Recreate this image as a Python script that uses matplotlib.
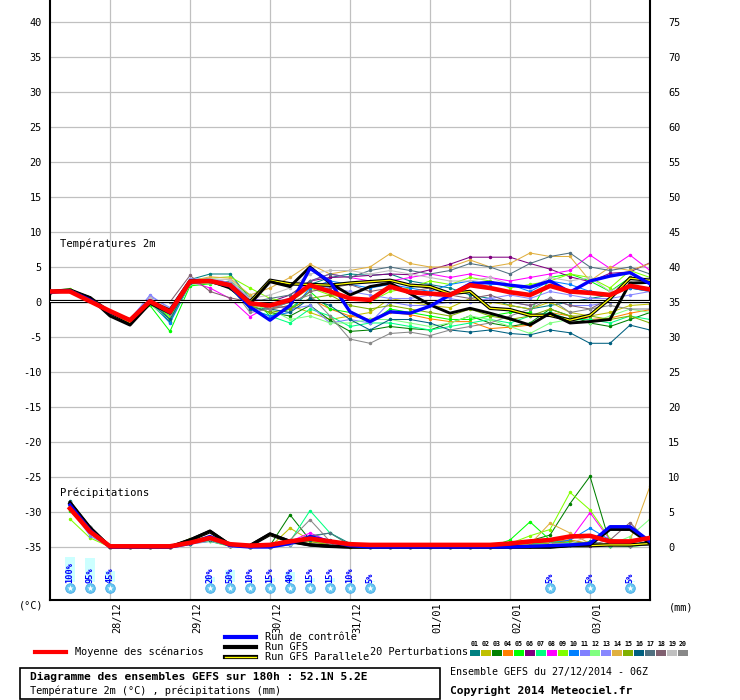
import numpy as np
import matplotlib
matplotlib.use('Agg')
import matplotlib.pyplot as plt
from matplotlib.lines import Line2D
from matplotlib.patches import Rectangle

plt.rcParams['font.family'] = ['DejaVu Sans Mono']
plt.rcParams['axes.unicode_minus'] = False

# forecast steps (hours after 27/12/2014 06Z)
hours = np.arange(0, 181, 6)
precip_hours = hours[1:]

day_hours = [18, 42, 66, 90, 114, 138, 162]
day_labels = ['28/12', '29/12', '30/12', '31/12', '01/01', '02/01', '03/01']

# --- temperature 2m (degC) ---
mean_temp = [1.5, 1.5, 0.1, -1.3, -2.6, 0.1, -1.4, 2.9, 3.0, 2.4, -0.2, -0.5, 0.3, 2.4, 1.5, 0.5,
             0.3, 2.2, 1.4, 1.2, 1.0, 2.4, 2.0, 1.4, 1.0, 2.3, 1.5, 1.3, 1.0, 2.3, 1.8]
control_temp = [1.4, 1.6, 0.3, -1.4, -2.6, 0.2, -1.5, 2.9, 3.0, 2.3, -0.7, -2.6, -0.5, 4.8, 2.9, -1.4,
                -2.8, -1.4, -1.6, -0.6, 1.0, 2.6, 2.8, 2.4, 2.1, 3.0, 1.4, 3.0, 3.7, 4.2, 2.6]
gfs_temp = [1.4, 1.6, 0.6, -2.0, -3.3, -0.2, -1.6, 2.9, 3.0, 2.0, -0.3, 2.9, 2.2, 5.0, 2.7, 1.0,
            2.2, 2.7, 1.2, -0.4, -1.6, -0.9, -1.6, -2.4, -3.3, -1.6, -3.0, -2.8, -2.5, 2.7, 2.8]
para_temp = [1.5, 1.7, 0.6, -1.5, -2.9, 0.0, -1.2, 3.0, 3.0, 2.4, 0.0, 3.1, 2.6, 2.5, 2.4, 2.7,
             2.9, 3.1, 2.4, 2.2, 1.2, 1.5, -0.9, -1.1, -1.9, -1.9, -2.6, -1.9, 0.5, 3.4, 3.1]

m01_temp = [1.4, 1.6, 0.5, -1.4, -2.5, 0.5, -2.5, 3.2, 4.0, 4.0, 0.5, -1.0, 0.0, 2.5, 3.5, 4.0,
            3.8, 4.0, 3.0, 2.5, 2.0, 1.0, 0.5, -0.5, -1.0, -0.5, 0.0, 0.5, 1.0, 2.0, 1.5]
m02_temp = [1.5, 1.7, 0.4, -1.6, -2.8, 0.0, -1.8, 2.7, 2.9, 2.2, 0.0, -1.0, -0.5, -1.5, -2.5, -2.0,
            -1.5, 0.5, 0.0, -0.5, -0.8, 0.5, 0.0, -0.5, -1.0, 0.0, -1.5, -2.0, -1.5, -0.5, -0.3]
m03_temp = [1.3, 1.5, 0.2, -1.6, -2.9, -0.2, -2.8, 2.6, 2.8, 2.0, -0.5, -1.5, -2.0, -0.5, -2.6, -4.2,
            -4.0, -3.5, -3.8, -4.0, -3.0, -2.0, -3.0, -3.5, -3.0, -1.0, -2.0, -3.0, -3.5, -2.5, -1.5]
m04_temp = [1.5, 1.6, 0.3, -1.5, -2.7, 0.3, -1.6, 2.9, 3.0, 2.3, 0.0, -0.5, -1.0, 0.5, -1.0, -2.0,
            -2.5, -1.5, -1.8, -2.4, -2.8, -2.8, -3.8, -3.6, -3.3, -1.5, -2.0, -2.5, -2.3, -1.6, -1.1]
m05_temp = [1.4, 1.6, 0.2, -1.7, -2.8, -0.5, -4.2, 2.3, 2.6, 3.0, 1.0, -2.0, -1.0, 1.5, -1.0, -1.5,
            -3.0, -1.0, -1.5, -2.0, -2.5, -2.5, -2.0, -1.5, -1.5, 3.5, 4.0, 3.0, 1.5, 3.5, 3.0]
m06_temp = [1.5, 1.7, 0.4, -1.4, -2.5, 0.5, -1.2, 3.0, 3.2, 2.8, 0.5, 0.0, 1.0, 3.0, 3.5, 3.6,
            3.8, 4.0, 3.9, 4.6, 5.4, 6.4, 6.4, 6.4, 5.5, 4.7, 3.6, 2.9, 4.1, 4.3, 5.6]
m07_temp = [1.4, 1.6, 0.3, -1.5, -2.6, 0.0, -2.0, 2.7, 2.8, 2.0, -1.0, -2.0, -3.0, -1.0, -2.0, -3.5,
            -3.0, -3.0, -3.5, -4.0, -3.5, -3.0, -2.5, -3.0, -2.0, -1.5, -2.5, -2.5, -3.0, -2.0, -2.5]
m08_temp = [1.5, 1.6, 0.3, -1.5, -2.6, 0.3, -1.4, 2.9, 2.0, 0.5, -2.1, -0.5, 0.5, 3.0, 4.0, 3.5,
            3.0, 3.0, 3.5, 4.0, 3.5, 4.0, 3.5, 3.0, 3.5, 4.0, 4.5, 6.7, 4.8, 6.7, 4.5]
m09_temp = [1.6, 1.9, 0.6, -1.3, -2.4, 0.4, -2.2, 3.1, 3.4, 3.6, 2.0, 0.5, 0.0, 2.0, 1.0, 0.5,
            0.0, 1.5, 2.0, 3.0, 2.5, 3.5, 3.0, 2.0, 2.5, 3.0, 4.0, 3.5, 2.0, 4.5, 3.5]
m10_temp = [1.4, 1.5, 0.2, -1.6, -2.8, 0.0, -3.0, 2.6, 2.8, 2.3, -1.0, -2.0, -1.5, 2.0, 3.0, 2.5,
            2.0, 2.5, 2.0, 1.5, 2.5, 3.0, 2.5, 2.5, 1.5, 3.0, 2.5, 1.5, 1.0, 2.0, 1.5]
m11_temp = [1.5, 1.6, 0.4, -1.3, -2.5, 1.0, -1.0, 3.2, 3.1, 2.6, 0.0, -0.5, -1.0, -0.5, -3.0, -2.5,
            -3.0, 0.0, -0.5, -0.5, 0.0, 0.0, 0.5, 0.0, -0.5, 0.5, -0.5, -0.5, 0.0, 0.2, 0.0]
m12_temp = [1.3, 1.5, 0.2, -1.7, -3.0, -0.3, -2.5, 2.5, 2.7, 2.4, -0.5, -1.0, -2.5, -2.0, -3.0, -3.0,
            -2.5, -2.5, -3.0, -3.5, -3.0, -2.0, -2.5, -3.5, -4.5, -3.0, -2.5, -3.0, -2.0, -1.0, -1.5]
m13_temp = [1.5, 1.7, 0.5, -1.4, -2.4, 0.8, -0.8, 3.3, 3.3, 2.8, 0.5, 0.0, 0.5, 2.5, 2.0, 1.5,
            1.0, 0.5, 0.5, 1.0, 0.5, 0.0, 0.5, 1.0, 0.5, 1.5, 1.0, 0.5, 0.5, 1.0, 1.5]
m14_temp = [1.5, 1.7, 0.5, -1.4, -2.5, 0.5, -1.3, 3.0, 3.6, 3.4, 1.0, 2.0, 3.5, 5.4, 4.0, 4.5,
            5.0, 6.9, 5.5, 5.0, 5.0, 6.0, 5.0, 5.5, 7.0, 6.5, 6.5, 3.0, 5.0, 4.5, 5.5]
m15_temp = [1.4, 1.6, 0.3, -1.5, -2.7, 0.2, -1.5, 2.8, 2.9, 2.4, -0.5, -1.5, -1.0, 0.5, 1.0, -0.5,
            -1.0, -0.5, -1.0, -1.5, -2.0, -1.0, -2.0, -2.5, -2.0, -1.0, -2.0, -2.0, -2.5, -2.0, -3.0]
m16_temp = [1.4, 1.6, 0.3, -1.5, -2.7, 0.0, -2.5, 2.7, 2.9, 2.3, -1.0, -1.0, -1.5, 0.5, -0.5, -2.5,
            -4.0, -2.5, -2.5, -3.0, -4.0, -4.3, -4.0, -4.5, -4.7, -4.0, -4.4, -5.9, -5.9, -3.3, -4.0]
m17_temp = [1.5, 1.6, 0.4, -1.4, -2.6, 0.2, -1.6, 2.9, 3.0, 2.6, 0.0, 0.5, 1.0, 3.0, 4.0, 3.5,
            4.5, 5.0, 4.5, 4.0, 4.5, 5.5, 5.0, 4.0, 5.5, 6.5, 7.0, 5.0, 4.5, 5.0, 4.0]
m18_temp = [1.3, 1.5, 0.2, -1.6, -2.8, 0.0, 0.0, 3.8, 1.5, 0.6, 0.0, -1.0, -0.5, 1.5, 2.0, 2.5,
            1.5, 2.0, 1.5, 2.0, 1.0, 0.5, 1.0, 0.0, -0.5, 0.5, -0.5, -1.0, 0.5, 3.5, 3.0]
m19_temp = [1.5, 1.6, 0.5, -1.4, -2.5, 0.5, -1.0, 3.0, 3.3, 3.2, 0.5, 1.0, 2.0, 4.0, 4.5, 4.5,
            4.0, 4.5, 4.0, 3.5, 3.0, 3.0, 3.5, 2.5, 2.0, 3.5, 3.0, 3.5, 1.5, 3.0, 3.5]
m20_temp = [1.4, 1.6, 0.3, -1.5, -2.7, -0.2, -1.7, 2.8, 2.9, 2.3, -1.5, -1.0, 0.0, 1.0, -2.0, -5.3,
            -5.9, -4.5, -4.3, -4.8, -4.0, -3.5, -3.0, -2.0, -1.0, 0.5, -1.5, -1.0, -0.5, -1.0, -1.0]

# --- precipitation per 6h (mm), from +6h ---
mean_prec = [5.5, 2.2, 0.1, 0.1, 0.1, 0.1, 0.6, 1.3, 0.4, 0.2, 0.3, 0.8, 1.2, 0.8, 0.4,
             0.3, 0.3, 0.3, 0.3, 0.3, 0.3, 0.3, 0.5, 0.8, 1.0, 1.5, 1.6, 0.8, 0.8, 1.3]
control_prec = [6.0, 2.4, 0, 0, 0, 0, 0.5, 1.5, 0.2, 0, 0, 0.5, 1.5, 0.8, 0.2,
                0, 0, 0, 0, 0, 0, 0, 0, 0.1, 0.2, 0.3, 0.5, 2.9, 2.9, 0.8]
gfs_prec = [6.4, 2.8, 0, 0, 0, 0, 1.0, 2.3, 0.3, 0.2, 1.9, 0.8, 0.3, 0.1, 0,
            0, 0, 0, 0, 0, 0, 0, 0, 0, 0, 0.2, 0.3, 2.5, 2.5, 0.5]
para_prec = [6.2, 2.7, 0, 0, 0, 0, 1.0, 2.2, 0.3, 0.2, 1.8, 0.8, 0.3, 0.1, 0,
             0, 0, 0, 0, 0, 0, 0, 0, 0, 0, 0.2, 0.2, 0.3, 0.3, 0.5]

m01_prec = [6.6, 2.8, 0, 0, 0, 0, 0.6, 1.2, 0.3, 0, 0, 0.5, 1.5, 2.0, 0.5, 0, 0, 0.1, 0.1, 0, 0, 0, 0.3, 0.5, 0.5, 0.3, 0.8, 0.2, 0.3, 0.7]
m02_prec = [6.0, 2.4, 0, 0, 0, 0, 1.0, 1.5, 0.2, 0, 0, 2.7, 1.0, 0.3, 0, 0, 0, 0, 0, 0, 0, 0, 0.2, 0.5, 0.8, 1.0, 0.5, 0.3, 0.5, 0.4]
m03_prec = [5.5, 2.2, 0, 0, 0, 0, 0.8, 1.3, 0.2, 0, 0.2, 4.6, 1.0, 0.4, 0.1, 0, 0, 0, 0, 0, 0, 0, 0.3, 0.9, 1.7, 6.2, 10.1, 0.5, 0.2, 0.5]
m04_prec = [5.8, 2.5, 0, 0, 0, 0, 0.5, 1.0, 0.2, 0, 0, 0.5, 0.8, 0.3, 0, 0, 0, 0, 0, 0, 0, 0, 0, 0.3, 0.6, 1.0, 0.4, 0.2, 0.3, 0.6]
m05_prec = [5.2, 2.0, 0, 0, 0, 0, 0.5, 0.8, 0.1, 0, 0, 0.3, 1.2, 0.6, 0.2, 0.1, 0, 0, 0, 0, 0, 0, 1.0, 3.6, 1.0, 0.5, 0.3, 0.2, 0.1, 0.3]
m06_prec = [6.2, 2.6, 0, 0, 0, 0, 0.6, 1.1, 0.2, 0, 0, 0.6, 1.3, 0.5, 0.2, 0, 0, 0, 0.2, 0.2, 0, 0, 0, 0.2, 0.3, 0.4, 0.2, 0.2, 0.2, 0.3]
m07_prec = [5.9, 2.3, 0, 0, 0, 0, 0.5, 1.0, 0.3, 0, 0, 0.8, 5.2, 2.0, 0.3, 0, 0, 0, 0, 0, 0, 0, 0, 0.4, 0.8, 0.6, 0.5, 0.2, 0.3, 0.8]
m08_prec = [6.1, 2.5, 0, 0, 0, 0, 0.6, 1.1, 0.2, 0, 0, 0.8, 2.0, 0.8, 0.2, 0, 0, 0, 0, 0, 0, 0, 0, 0.2, 0.3, 1.0, 4.9, 1.0, 0.3, 0.5]
m09_prec = [4.0, 1.3, 0, 0, 0, 0, 0.7, 1.0, 0.2, 0, 0, 0.5, 1.0, 0.5, 0.6, 0.2, 0, 0, 0, 0, 0, 0, 0.5, 1.6, 2.5, 7.8, 5.3, 1.2, 0.3, 0.6]
m10_prec = [6.0, 2.4, 0, 0, 0, 0, 0.6, 1.2, 0.3, 0, 0, 0.4, 1.0, 0.4, 0.1, 0, 0, 0, 0, 0, 0, 0, 0, 0.2, 0.5, 1.0, 2.7, 1.0, 0.5, 0.4]
m11_prec = [5.6, 1.6, 0, 0, 0, 0, 0.4, 0.8, 0.2, 0, 0, 0.3, 0.9, 0.4, 0.1, 0, 0, 0, 0.1, 0, 0, 0, 0, 0.1, 0.3, 0.5, 0.5, 0.4, 0.3, 0.5]
m12_prec = [5.7, 2.0, 0, 0, 0, 0, 0.5, 0.9, 0.2, 0, 0, 0.4, 0.8, 0.5, 0.2, 0, 0, 0, 0, 0, 0, 0, 0, 0.3, 0.5, 0.5, 0.4, 0.3, 1.5, 4.0]
m13_prec = [5.9, 2.3, 0, 0, 0, 0, 0.5, 1.0, 0.2, 0, 0, 0.5, 1.2, 0.4, 0.1, 0, 0, 0, 0, 0, 0, 0, 0, 0.2, 0.4, 0.4, 0.5, 0.3, 0.6, 0.3]
m14_prec = [6.3, 2.6, 0, 0, 0, 0, 0.6, 1.3, 0.2, 0, 0, 0.5, 1.0, 0.3, 0, 0, 0, 0, 0, 0, 0, 0, 0, 0.4, 3.4, 2.0, 0.5, 0.5, 0.9, 8.7]
m15_prec = [5.4, 2.1, 0, 0, 0, 0, 1.2, 1.0, 0.2, 0, 0, 1.0, 0.8, 0.3, 0, 0, 0, 0, 0, 0, 0, 0, 0, 0.3, 0.5, 0.8, 0.5, 0.3, 0.5, 1.2]
m16_prec = [6.5, 2.9, 0, 0, 0, 0, 0.5, 1.0, 0.2, 0, 0, 0.4, 1.0, 1.0, 0.3, 0, 0, 0, 0, 0, 0, 0, 0, 0.2, 0.3, 0.3, 0.5, 0.3, 0.2, 0.9]
m17_prec = [6.2, 2.7, 0, 0, 0, 0, 0.6, 1.4, 0.3, 0, 0, 0.6, 1.6, 2.0, 0.3, 0, 0, 0, 0, 0, 0, 0, 0, 0.1, 0.2, 0.3, 0.3, 0.4, 0.2, 0.5]
m18_prec = [6.0, 2.6, 0, 0, 0, 0, 0.7, 1.2, 0.2, 0, 0, 0.6, 1.3, 0.4, 0.1, 0, 0, 0, 0, 0, 0, 0, 0, 0.1, 0.2, 0.3, 0.3, 1.0, 3.5, 0.5]
m19_prec = [6.3, 2.8, 0, 0, 0, 0, 0.6, 1.1, 0.2, 0, 0, 0.5, 1.4, 0.5, 0.1, 0, 0, 0, 0, 0, 0, 0, 0, 0.2, 0.4, 0.5, 1.6, 0.5, 0.3, 0.4]
m20_prec = [6.4, 2.9, 0, 0, 0, 0, 0.6, 1.1, 0.3, 0, 0, 1.0, 3.9, 0.8, 0.2, 0, 0, 0, 0, 0, 0, 0, 0, 0.1, 0.2, 0.3, 0.3, 0.3, 0.2, 0.3]

member_colors = ['#008080', '#c0c000', '#008000', '#ff8000', '#00ff00', '#800080', '#00ff80',
                 '#ff00ff', '#80ff00', '#0080ff', '#8080ff', '#80ff80', '#8888ff', '#e0b040',
                 '#80b000', '#006080', '#507080', '#806070', '#c0c0c0', '#888888']

# snow probability
snow_hours = [6, 12, 18, 48, 54, 60, 66, 72, 78, 84, 90, 96, 150, 162, 174]
snow_pct = [100, 95, 45, 20, 50, 10, 15, 40, 15, 15, 10, 5, 5, 5, 5]

member_temps = [m01_temp, m02_temp, m03_temp, m04_temp, m05_temp, m06_temp, m07_temp, m08_temp,
                m09_temp, m10_temp, m11_temp, m12_temp, m13_temp, m14_temp, m15_temp, m16_temp,
                m17_temp, m18_temp, m19_temp, m20_temp]
member_precs = [m01_prec, m02_prec, m03_prec, m04_prec, m05_prec, m06_prec, m07_prec, m08_prec,
                m09_prec, m10_prec, m11_prec, m12_prec, m13_prec, m14_prec, m15_prec, m16_prec,
                m17_prec, m18_prec, m19_prec, m20_prec]

PREC_BASE = -35  # 0 mm sits on the -35 degC line, 1 mm = 1 unit
W, H = 740, 700


def fx(x):
    return x / W


def fy(y):
    return 1 - y / H


fig = plt.figure(figsize=(W / 100, H / 100), dpi=100)
ax = fig.add_axes([fx(50), fy(600), 600 / W, 600 / H])
ax.set_xlim(0, 180)
ax.set_ylim(-42.57, 43.14)

ax.set_yticks(range(-35, 41, 5))
ax.set_yticklabels([str(v) for v in range(-35, 41, 5)])
ax.set_xticks(day_hours)
ax.set_xticklabels([])
ax.grid(color='#c0c0c0', lw=0.9, zorder=0)
ax.tick_params(length=0, labelsize=7.4, pad=6)
ax.spines['top'].set_visible(False)
for s in ['left', 'right', 'bottom']:
    ax.spines[s].set_linewidth(1.5)

ax2 = ax.twinx()
ax2.set_ylim(-42.57 + 35, 43.14 + 35)
ax2.set_yticks(range(0, 76, 5))
ax2.tick_params(length=0, labelsize=7.4, pad=13)
for s in ax2.spines.values():
    s.set_visible(False)

# zero line
ax.axhline(0.2, color='black', lw=2.3, zorder=2.5)
ax.axhline(0.2, color='white', lw=0.7, zorder=2.6)

# perturbations
for temps, precs, col in zip(member_temps, member_precs, member_colors):
    ax.plot(hours, temps, color=col, lw=0.75, marker='o', ms=1.5, zorder=2)
    ax.plot(precip_hours, PREC_BASE + np.array(precs), color=col, lw=0.75, marker='o', ms=1.5, zorder=2)

# deterministic runs and mean
ax.plot(hours, para_temp, color='black', lw=2.5, zorder=3)
ax.plot(hours, para_temp, color='yellow', lw=0.9, zorder=3.1)
ax.plot(precip_hours, PREC_BASE + np.array(para_prec), color='black', lw=2.5, zorder=3)
ax.plot(precip_hours, PREC_BASE + np.array(para_prec), color='yellow', lw=0.9, zorder=3.1)
ax.plot(hours, gfs_temp, color='black', lw=2.1, zorder=4)
ax.plot(precip_hours, PREC_BASE + np.array(gfs_prec), color='black', lw=2.1, zorder=4)
ax.plot(hours, control_temp, color='blue', lw=2.4, zorder=5)
ax.plot(precip_hours, PREC_BASE + np.array(control_prec), color='blue', lw=2.4, zorder=5)
ax.plot(hours, mean_temp, color='red', lw=3.3, zorder=6)
ax.plot(precip_hours, PREC_BASE + np.array(mean_prec), color='red', lw=3.3, zorder=6)

# snow probabilities
bar_h = [p / 100 * 3.57 for p in snow_pct]
ax.bar(snow_hours, bar_h, width=3, bottom=-40.0, color='#ccffff', zorder=1)
for h, p in zip(snow_hours, snow_pct):
    ax.text(h, -40.1, f'{p}%', rotation=90, ha='center', va='bottom', color='blue',
            fontsize=6.2, fontweight='bold', zorder=7)
ax.scatter(snow_hours, [-40.9] * len(snow_hours), s=48, color='#66c8f0', edgecolor='#4aa8e8',
           lw=0.6, zorder=7)
ax.scatter(snow_hours, [-40.9] * len(snow_hours), s=22, marker='*', color='white', lw=0, zorder=8)

ax.text(3, 8.3, 'Températures 2m', fontsize=7.6, va='center', ha='left')
ax.text(3, -27.3, 'Précipitations', fontsize=7.6, va='center', ha='left')

xt = ax.get_xaxis_transform()
for h, lab in zip(day_hours, day_labels):
    ax.text(h + 2.1, -0.004, lab, transform=xt, rotation=90, ha='center', va='top', fontsize=7.4)

fig.text(fx(31), fy(606), '(°C)', ha='center', va='center', fontsize=7.4)
fig.text(fx(681), fy(607), '(mm)', ha='center', va='center', fontsize=7.4)

# legend
fig.add_artist(Line2D([fx(35), fx(66)], [fy(652), fy(652)], color='red', lw=3))
fig.text(fx(75), fy(652), 'Moyenne des scénarios', va='center', fontsize=7.4)
fig.add_artist(Line2D([fx(225), fx(256)], [fy(637), fy(637)], color='blue', lw=3))
fig.text(fx(265), fy(637), 'Run de contrôle', va='center', fontsize=7.4)
fig.add_artist(Line2D([fx(225), fx(256)], [fy(647), fy(647)], color='black', lw=3))
fig.text(fx(265), fy(647), 'Run GFS', va='center', fontsize=7.4)
fig.add_artist(Line2D([fx(225), fx(256)], [fy(657), fy(657)], color='black', lw=3))
fig.add_artist(Line2D([fx(225), fx(256)], [fy(657), fy(657)], color='yellow', lw=1))
fig.text(fx(265), fy(657), 'Run GFS Parallele', va='center', fontsize=7.4)

fig.text(fx(370), fy(652), '20 Perturbations', va='center', fontsize=7.4)
for i, col in enumerate(member_colors):
    x0 = 470 + i * 10.95
    fig.add_artist(Rectangle((fx(x0), fy(656)), 10 / W, 6 / H, transform=fig.transFigure,
                             facecolor=col, edgecolor='none'))
    fig.text(fx(x0 + 5), fy(644), f'{i + 1:02d}', ha='center', va='center', fontsize=4.8,
             fontweight='bold')

fig.add_artist(Rectangle((fx(20), fy(699)), 420 / W, 31 / H, transform=fig.transFigure,
                         fill=False, edgecolor='black', lw=1.2))
fig.text(fx(30), fy(677), 'Diagramme des ensembles GEFS sur 180h : 52.1N 5.2E', va='center',
         fontsize=8.1, fontweight='bold')
fig.text(fx(30), fy(691), 'Température 2m (°C) , précipitations (mm)', va='center', fontsize=7.4)
fig.text(fx(450), fy(672), 'Ensemble GEFS du 27/12/2014 - 06Z', va='center', fontsize=7.2)
fig.text(fx(450), fy(691), 'Copyright 2014 Meteociel.fr', va='center', fontsize=8.1,
         fontweight='bold')

fig.savefig('out.png', dpi=100)
